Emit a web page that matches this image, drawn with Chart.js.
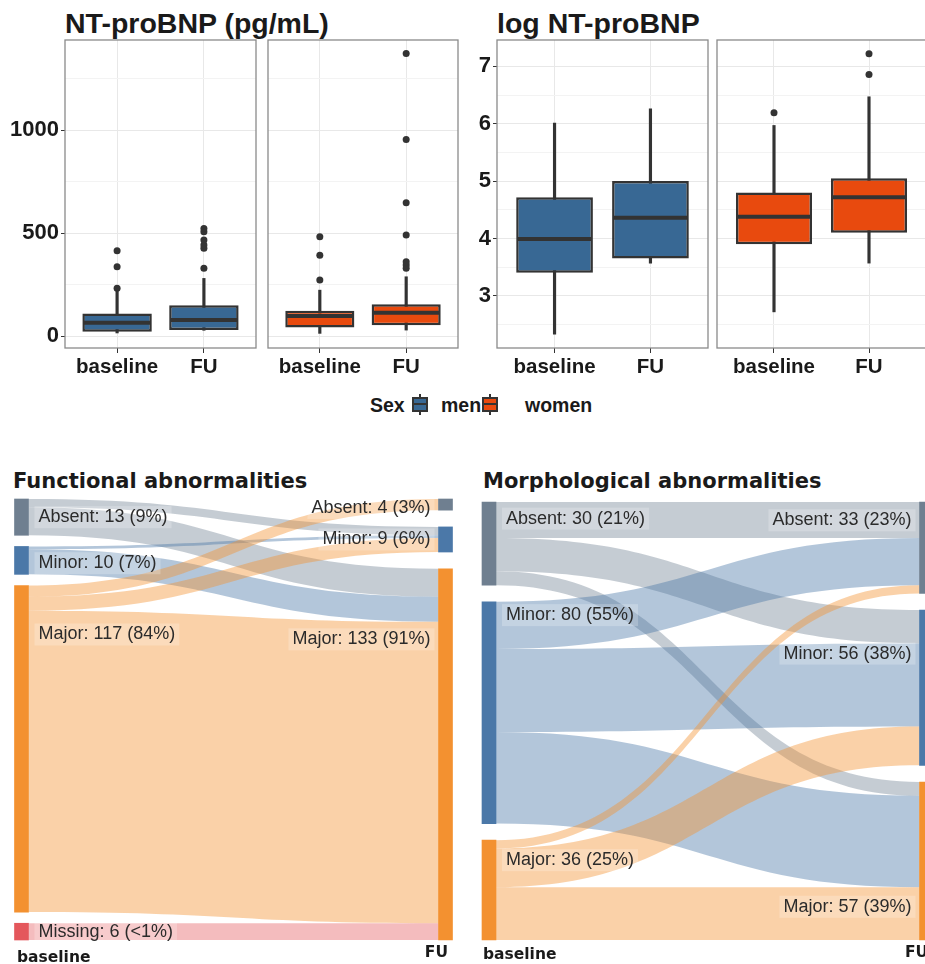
<!DOCTYPE html>
<html>
<head>
<meta charset="utf-8">
<script src="https://cdn.jsdelivr.net/npm/chart.js@4.4.0/dist/chart.umd.min.js"></script>
<style>
    html, body { margin: 0; padding: 0; background: #fff; overflow: hidden; width: 925px; height: 964px; }
    body { position: relative; font-family: 'Liberation Sans', Arial, sans-serif; color: #1a1a1a; }
    canvas { position: absolute; }
    .titulo { position: absolute; font-weight: bold; font-size: 28.5px; line-height: 28px; white-space: nowrap; }
    .tituloSankey { position: absolute; font-family: 'DejaVu Sans', sans-serif; font-weight: bold; font-size: 21px; line-height: 21px; white-space: nowrap; }
    .legenda { position: absolute; top: 395px; font-weight: bold; font-size: 19.5px; line-height: 20px; white-space: nowrap; }
    .chave { position: absolute; top: 394px; width: 16px; height: 21px; }
    .chave .bigode { position: absolute; left: 7px; top: 0; width: 2px; height: 21px; background: #333; }
    .chave .caixa { position: absolute; left: 0; top: 3px; width: 12px; height: 11px; border: 2px solid #333; }
    .chave .med { position: absolute; left: 2px; top: 9px; width: 12px; height: 2px; background: #333; }
    .coluna { position: absolute; font-family: 'DejaVu Sans', sans-serif; font-weight: bold; font-size: 15.5px; line-height: 16px; white-space: nowrap; }
</style>
</head>
<body>
<div class="titulo" style="left:65px;top:9px">NT-proBNP (pg/mL)</div>
<div class="titulo" style="left:497px;top:9px">log NT-proBNP</div>

<canvas id="painelPgHomens" width="260" height="358" style="left:0;top:30px"></canvas>
<canvas id="painelPgMulheres" width="200" height="358" style="left:262px;top:30px"></canvas>
<canvas id="painelLogHomens" width="242" height="358" style="left:468px;top:30px"></canvas>
<canvas id="painelLogMulheres" width="218" height="358" style="left:712px;top:30px"></canvas>

<div class="legenda" style="left:370px">Sex</div>
<div class="chave" style="left:412px"><i class="bigode"></i><b class="caixa" style="background:#386894"></b><i class="med"></i></div>
<div class="legenda" style="left:441px">men</div>
<div class="chave" style="left:482px"><i class="bigode"></i><b class="caixa" style="background:#e84a0e"></b><i class="med"></i></div>
<div class="legenda" style="left:525px">women</div>

<div class="tituloSankey" style="left:13px;top:471px">Functional abnormalities</div>
<div class="tituloSankey" style="left:483px;top:471px">Morphological abnormalities</div>

<canvas id="sankeyFuncional" width="470" height="460" style="left:0;top:490px"></canvas>
<canvas id="sankeyMorfologico" width="480" height="460" style="left:460px;top:490px"></canvas>

<div class="coluna" style="left:17px;top:949px">baseline</div>
<div class="coluna" style="right:477px;top:944px">FU</div>
<div class="coluna" style="left:483px;top:946px">baseline</div>
<div class="coluna" style="left:905px;top:944px">FU</div>

<script>
// ---- dados dos boxplots: [minimo, Q1, mediana, Q3, maximo] para baseline e FU
const rotulosX = ['baseline', 'FU'];

const pgHomensCaixas = [[15, 21, 65, 110, 220], [28, 29, 78, 150, 280]];
const pgHomensOutliers = [[232, 337, 414], [329, 426, 442, 466, 507, 523]];
const pgMulheresCaixas = [[13, 42, 97, 123, 223], [29, 53, 113, 155, 288]];
const pgMulheresOutliers = [[272, 393, 482], [329, 345, 361, 491, 647, 955, 1373]];

const logHomensCaixas = [[2.33, 3.40, 3.99, 4.72, 6.01], [3.57, 3.65, 4.36, 5.00, 6.26]];
const logHomensOutliers = [[], []];
const logMulheresCaixas = [[2.72, 3.90, 4.38, 4.80, 5.97], [3.57, 4.10, 4.72, 5.05, 6.47]];
const logMulheresOutliers = [[6.19], [6.86, 7.22]];

const ticksPg = [0, 250, 500, 750, 1000, 1250];
const rotulosPg = [0, 500, 1000];
const ticksLog = [2.5, 3, 3.5, 4, 4.5, 5, 5.5, 6, 6.5, 7];
const rotulosLog = [3, 4, 5, 6, 7];

// ---- dados dos sankeys
const categoriasSankey = ['Absent', 'Minor', 'Major', 'Missing'];

const funcBaselineN = [13, 10, 117, 6];
const funcBaselinePct = ['9%', '7%', '84%', '<1%'];
const funcFuN = [4, 9, 133];
const funcFuPct = ['3%', '6%', '91%'];
const funcOrigem = [0, 0, 1, 1, 2, 2, 2, 3];
const funcDestino = [1, 2, 1, 2, 0, 1, 2, 2];
const funcValor = [3, 10, 1, 9, 4, 5, 108, 6];

const morfBaselineN = [30, 80, 36];
const morfBaselinePct = ['21%', '55%', '25%'];
const morfFuN = [33, 56, 57];
const morfFuPct = ['23%', '38%', '39%'];
const morfOrigem = [0, 0, 0, 1, 1, 1, 2, 2, 2];
const morfDestino = [0, 1, 2, 0, 1, 2, 0, 1, 2];
const morfValor = [13, 12, 5, 17, 30, 33, 3, 14, 19];

// posicao vertical dos rotulos dentro de cada no (0 = topo, 1 = base)
const fracFuncBase = [0.5, 0.6, 0.15, 0.5];
const fracFuncFu = [0.8, 0.5, 0.19];
const fracMorfBase = [0.2, 0.06, 0.2];
const fracMorfFu = [0.2, 0.28, 0.79];

const corNo = ['#6f7f90', '#4b78a8', '#f39130', '#e4575c'];
const corFluxo = ['rgba(111,127,144,0.40)', 'rgba(75,120,168,0.42)', 'rgba(243,145,48,0.42)', 'rgba(228,87,92,0.40)'];

const fonteEixo = 'Liberation Sans';

function plotarBoxplot(idCanvas, caixas, outliers, cor, limites, ticks, rotulos, larguraEixoY, padding) {
    const bigodes = caixas.map((c, i) => ({ x: i + 1, y: [c[0], c[4]] }));
    const corpo = caixas.map((c, i) => ({ x: i + 1, y: [c[1], c[3]] }));
    const medianas = caixas.map(c => c[2]);
    const pontos = [];
    outliers.forEach((lista, i) => lista.forEach(v => pontos.push({ x: i + 1, y: v })));

    const pluginPainel = {
        id: 'painel',
        afterDatasetsDraw(chart) {
            const ctx = chart.ctx;
            const escalaY = chart.scales.y;
            const meta = chart.getDatasetMeta(1);
            ctx.save();
            ctx.strokeStyle = '#333333';
            ctx.lineWidth = 4;
            meta.data.forEach((barra, i) => {
                const py = escalaY.getPixelForValue(medianas[i]);
                ctx.beginPath();
                ctx.moveTo(barra.x - barra.width / 2 + 1, py);
                ctx.lineTo(barra.x + barra.width / 2 - 1, py);
                ctx.stroke();
            });
            const a = chart.chartArea;
            ctx.strokeStyle = '#8a8a8a';
            ctx.lineWidth = 1.3;
            ctx.strokeRect(a.left, a.top, a.right - a.left, a.bottom - a.top);
            ctx.restore();
        }
    };

    new Chart(document.getElementById(idCanvas), {
        type: 'bar',
        data: {
            datasets: [
                { data: bigodes, backgroundColor: '#333333', barThickness: 2.5, grouped: false, order: 2 },
                {
                    data: corpo, backgroundColor: cor, borderColor: '#333333', borderWidth: 2.5,
                    borderSkipped: false, grouped: false, categoryPercentage: 1, barPercentage: 0.8, order: 1
                },
                { type: 'scatter', data: pontos, backgroundColor: '#333333', borderWidth: 0, pointRadius: 3.5, order: 0 }
            ]
        },
        options: {
            responsive: false,
            animation: false,
            layout: { padding: padding },
            plugins: { legend: { display: false }, tooltip: { enabled: false } },
            scales: {
                x: {
                    type: 'linear', min: 0.4, max: 2.6, offset: false,
                    afterBuildTicks: s => { s.ticks = [{ value: 1 }, { value: 2 }]; },
                    afterFit: s => { s.height = 40; s.paddingLeft = 0; s.paddingRight = 0; },
                    ticks: {
                        callback: (v, i) => rotulosX[i],
                        font: { family: fonteEixo, size: 20.5, weight: 'bold' },
                        color: '#1a1a1a', padding: 2, maxRotation: 0, autoSkip: false
                    },
                    grid: { offset: false, color: '#e8e8e8', tickLength: 5, tickColor: '#333333' },
                    border: { display: false }
                },
                y: {
                    min: limites[0], max: limites[1],
                    afterBuildTicks: s => { s.ticks = ticks.map(v => ({ value: v })); },
                    afterFit: s => { s.width = larguraEixoY; s.paddingTop = 0; s.paddingBottom = 0; },
                    ticks: {
                        display: larguraEixoY > 0,
                        callback: v => rotulos.includes(v) ? v : '',
                        font: { family: fonteEixo, size: 22, weight: 'bold' },
                        color: '#1a1a1a', padding: 2
                    },
                    grid: {
                        color: c => rotulos.includes(c.tick.value) ? '#e8e8e8' : '#f3f3f3',
                        drawTicks: larguraEixoY > 0,
                        tickLength: 4,
                        tickColor: c => rotulos.includes(c.tick.value) ? '#333333' : 'rgba(0,0,0,0)'
                    },
                    border: { display: false }
                }
            }
        },
        plugins: [pluginPainel]
    });
}

plotarBoxplot('painelPgHomens', pgHomensCaixas, pgHomensOutliers, '#386894', [-58, 1438], ticksPg, rotulosPg, 65, { left: 0, right: 2, top: 10, bottom: 0 });
plotarBoxplot('painelPgMulheres', pgMulheresCaixas, pgMulheresOutliers, '#e84a0e', [-58, 1438], ticksPg, rotulosPg, 0, { left: 6, right: 2, top: 10, bottom: 0 });
plotarBoxplot('painelLogHomens', logHomensCaixas, logHomensOutliers, '#386894', [2.09, 7.46], ticksLog, rotulosLog, 29, { left: 0, right: 2, top: 10, bottom: 0 });
plotarBoxplot('painelLogMulheres', logMulheresCaixas, logMulheresOutliers, '#e84a0e', [2.09, 7.46], ticksLog, rotulosLog, 0, { left: 5, right: 2, top: 10, bottom: 0 });

function criarSankey(idCanvas, padding, nBase, pctBase, nFu, pctFu, origem, destino, valor, fracBase, fracFu) {
    const folga = 12;
    const total = nBase.reduce((a, b) => a + b, 0);

    function empilhar(ns) {
        const gap = folga / (ns.length - 1);
        let y = 0;
        return ns.map(n => { const p = [y, y + n]; y += n + gap; return p; });
    }
    const posBase = empilhar(nBase);
    const posFu = empilhar(nFu);

    const dadosNos = posBase.map(p => ({ x: 0, y: p })).concat(posFu.map(p => ({ x: 1, y: p })));
    const cores = nBase.map((n, i) => corNo[i]).concat(nFu.map((n, i) => corNo[i]));

    const pluginSankey = {
        id: 'sankey',
        beforeDatasetsDraw(chart) {
            const ctx = chart.ctx;
            const ex = chart.scales.x;
            const ey = chart.scales.y;
            const x0 = ex.getPixelForValue(0) + 7;
            const x1 = ex.getPixelForValue(1) - 7;
            const xm = (x0 + x1) / 2;
            const saida = posBase.map(p => p[0]);
            const entrada = posFu.map(p => p[0]);
            ctx.save();
            for (let i = 0; i < valor.length; i++) {
                const o = origem[i], d = destino[i], v = valor[i];
                const a0 = ey.getPixelForValue(saida[o]);
                const a1 = ey.getPixelForValue(saida[o] + v);
                const b0 = ey.getPixelForValue(entrada[d]);
                const b1 = ey.getPixelForValue(entrada[d] + v);
                saida[o] += v;
                entrada[d] += v;
                ctx.beginPath();
                ctx.moveTo(x0, a0);
                ctx.bezierCurveTo(xm, a0, xm, b0, x1, b0);
                ctx.lineTo(x1, b1);
                ctx.bezierCurveTo(xm, b1, xm, a1, x0, a1);
                ctx.closePath();
                ctx.fillStyle = corFluxo[o];
                ctx.fill();
            }
            ctx.restore();
        },
        afterDatasetsDraw(chart) {
            const ctx = chart.ctx;
            const ex = chart.scales.x;
            const ey = chart.scales.y;
            ctx.save();
            ctx.font = '18px "Liberation Sans", Arial, sans-serif';
            ctx.textBaseline = 'middle';
            function rotulo(texto, x, y, alinhar) {
                const w = ctx.measureText(texto).width;
                const xi = alinhar === 'left' ? x : x - w;
                ctx.fillStyle = 'rgba(255,255,255,0.22)';
                ctx.fillRect(xi - 4, y - 11, w + 8, 22);
                ctx.fillStyle = '#2b2b2b';
                ctx.textAlign = alinhar;
                ctx.fillText(texto, x, y);
            }
            posBase.forEach((p, i) => {
                const y = ey.getPixelForValue(p[0] + fracBase[i] * (p[1] - p[0]));
                rotulo(categoriasSankey[i] + ': ' + nBase[i] + ' (' + pctBase[i] + ')', ex.getPixelForValue(0) + 17, y, 'left');
            });
            posFu.forEach((p, i) => {
                const y = ey.getPixelForValue(p[0] + fracFu[i] * (p[1] - p[0]));
                rotulo(categoriasSankey[i] + ': ' + nFu[i] + ' (' + pctFu[i] + ')', ex.getPixelForValue(1) - 15, y, 'right');
            });
            ctx.restore();
        }
    };

    new Chart(document.getElementById(idCanvas), {
        type: 'bar',
        data: {
            datasets: [{
                data: dadosNos, backgroundColor: cores, borderWidth: 0,
                barThickness: 14, grouped: false, clip: false
            }]
        },
        options: {
            responsive: false,
            animation: false,
            layout: { padding: padding },
            plugins: { legend: { display: false }, tooltip: { enabled: false } },
            scales: {
                x: { type: 'linear', min: 0, max: 1, offset: false, display: false },
                y: { min: 0, max: total + folga, reverse: true, display: false }
            }
        },
        plugins: [pluginSankey]
    });
}

criarSankey('sankeyFuncional', { left: 21.5, right: 24.5, top: 9, bottom: 10 },
    funcBaselineN, funcBaselinePct, funcFuN, funcFuPct, funcOrigem, funcDestino, funcValor, fracFuncBase, fracFuncFu);
criarSankey('sankeyMorfologico', { left: 29, right: 13.5, top: 12, bottom: 10 },
    morfBaselineN, morfBaselinePct, morfFuN, morfFuPct, morfOrigem, morfDestino, morfValor, fracMorfBase, fracMorfFu);
</script>
</body>
</html>
